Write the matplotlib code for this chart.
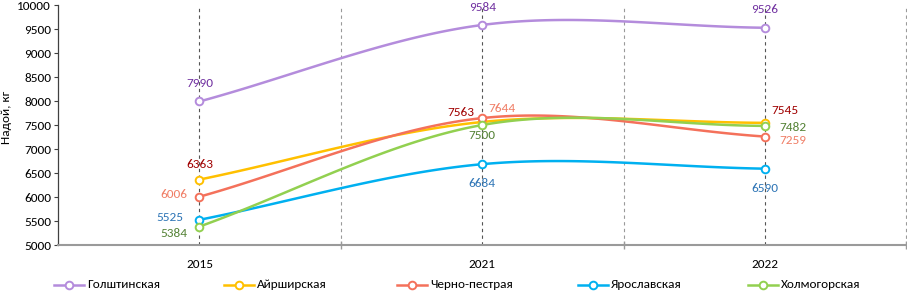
import numpy as np
import matplotlib
matplotlib.use("Agg")
import matplotlib.pyplot as plt
from matplotlib.lines import Line2D

plt.rcParams['font.family'] = ['Carlito', 'Liberation Sans', 'DejaVu Sans']

years = ['2015', '2021', '2022']
breeds = ['Голштинская', 'Айрширская', 'Черно-пестрая', 'Ярославская', 'Холмогорская']
golsht = [7990, 9584, 9526]
ayrsh = [6363, 7563, 7545]
cherno = [6006, 7644, 7259]
yarosl = [5525, 6684, 6590]
kholm = [5384, 7500, 7482]

series = [golsht, ayrsh, cherno, yarosl, kholm]
line_colors = ['#B48CDC', '#FFC000', '#F4715B', '#00B0F0', '#92D050']
label_colors = ['#7030A0', '#A00000', '#F07E66', '#2E75B6', '#548235']

# label placement: (dx px, dy px, ha, va)
label_pos = [
    [(0, 12, 'center', 'bottom'), (0, 12, 'center', 'bottom'), (0, 13, 'center', 'bottom')],
    [(0, 10, 'center', 'bottom'), (-8, 4, 'right', 'bottom'), (6, 7, 'left', 'bottom')],
    [(-12, 2, 'right', 'center'), (6, 4, 'left', 'bottom'), (14, -4, 'left', 'center')],
    [(-16, 2, 'right', 'center'), (0, -14, 'center', 'top'), (0, -14, 'center', 'top')],
    [(-12, -7, 'right', 'center'), (0, -5, 'center', 'top'), (14, -2, 'left', 'center')],
]

FS = 9.5


def smooth(y):
    x = np.arange(len(y), dtype=float)
    P = np.column_stack([x, np.asarray(y, float)])
    n = len(P)
    tang = []
    for i in range(n):
        if i == 0:
            tang.append(P[1] - P[0])
        elif i == n - 1:
            tang.append(P[-1] - P[-2])
        else:
            tang.append((P[i + 1] - P[i - 1]) / 2)
    pts = []
    t = np.linspace(0, 1, 60)
    h00 = 2 * t**3 - 3 * t**2 + 1
    h10 = t**3 - 2 * t**2 + t
    h01 = -2 * t**3 + 3 * t**2
    h11 = t**3 - t**2
    for i in range(n - 1):
        seg = (np.outer(h00, P[i]) + np.outer(h10, tang[i]) +
               np.outer(h01, P[i + 1]) + np.outer(h11, tang[i + 1]))
        pts.append(seg)
    pts = np.vstack(pts)
    return pts[:, 0], pts[:, 1]


fig = plt.figure(figsize=(9.07, 2.91), dpi=100)
W, H = 907, 291
ax = fig.add_axes([58 / W, 1 - 245 / H, (906.5 - 58) / W, (245 - 5) / H])

ax.set_xlim(-0.5, 2.5)
ax.set_ylim(5000, 10000)
ax.set_yticks(np.arange(5000, 10001, 500))
ax.set_xticks(range(3))
ax.set_xticklabels(years)
ax.set_xticks([0.5, 1.5, 2.5], minor=True)

for b in [0.5, 1.5, 2.5]:
    ax.axvline(b, color='#9A9A9A', lw=0.8, ls=(0, (3, 3)), zorder=1)
for c in range(3):
    ax.axvline(c, color='#555555', lw=0.8, ls=(0, (3, 3)), zorder=1)

for vals, lc in zip(series, line_colors):
    xs, ys = smooth(vals)
    ax.plot(xs, ys, color=lc, lw=1.8, zorder=3, solid_capstyle='round')
    ax.plot(range(3), vals, ls='none', marker='o', ms=5.5, mfc='white',
            mec=lc, mew=1.4, zorder=4)

for vals, tc, poss in zip(series, label_colors, label_pos):
    for i, v in enumerate(vals):
        dx, dy, ha, va = poss[i]
        ax.annotate(str(v), (i, v), xytext=(dx * 0.72, dy * 0.72),
                    textcoords='offset points', ha=ha, va=va,
                    color=tc, fontsize=FS, zorder=5)

for s in ['top', 'right']:
    ax.spines[s].set_visible(False)
ax.spines['left'].set_color('#404040')
ax.spines['left'].set_linewidth(0.9)
ax.spines['bottom'].set_color('#9A9A9A')
ax.spines['bottom'].set_linewidth(1.5)

ax.tick_params(axis='y', length=3, color='#404040', labelsize=FS, pad=2)
ax.tick_params(axis='x', which='major', length=0, labelsize=FS, pad=10)
ax.tick_params(axis='x', which='minor', length=6, direction='inout',
               color='#9A9A9A', width=1)

fig.text(7 / W, 1 - 117 / H, 'Надой, кг', rotation=90, ha='center',
         va='center', fontsize=FS)

# legend entries placed manually (handle start x in pixels)
leg_x = [54, 224, 397, 578, 748]
leg_y = 1 - 285 / H
for hx, lc, name in zip(leg_x, line_colors, breeds):
    fig.add_artist(Line2D([hx / W, (hx + 30) / W], [leg_y, leg_y], color=lc,
                          lw=1.8, transform=fig.transFigure))
    fig.add_artist(Line2D([(hx + 15) / W], [leg_y], ls='none', marker='o',
                          ms=5.5, mfc='white', mec=lc, mew=1.4,
                          transform=fig.transFigure))
    fig.text((hx + 33) / W, leg_y, name, ha='left', va='center', fontsize=FS)

fig.savefig('out.png', dpi=100)
